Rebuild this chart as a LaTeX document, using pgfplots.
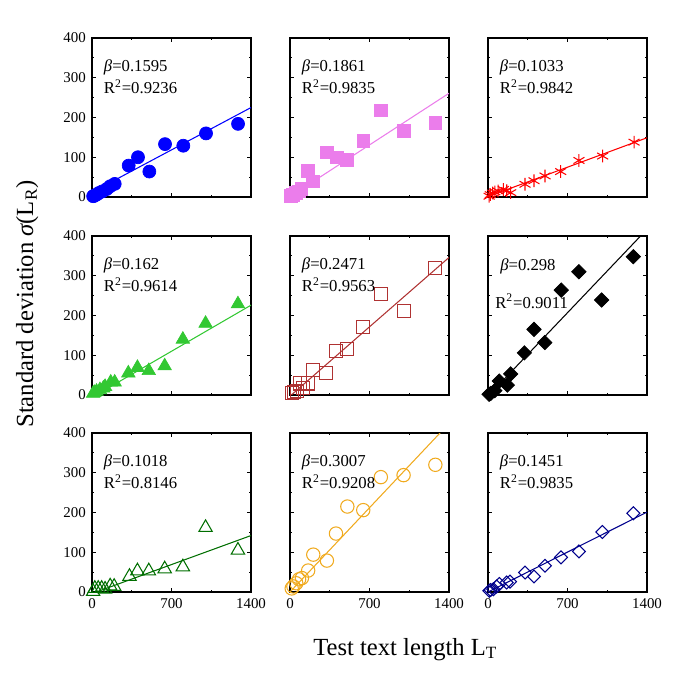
\documentclass[border=0pt]{standalone}
\usepackage{fontspec}
\setmainfont{Liberation Serif}
\usepackage{pgfplots}
\pgfplotsset{compat=1.18}
\definecolor{cBlue}{RGB}{0,0,255}
\definecolor{cViolet}{RGB}{235,125,235}
\definecolor{cRed}{RGB}{255,0,0}
\definecolor{cGreen}{RGB}{50,200,50}
\definecolor{cBrown}{RGB}{175,50,50}
\definecolor{cDkGreen}{RGB}{0,110,0}
\definecolor{cOrange}{RGB}{240,170,30}
\definecolor{cNavy}{RGB}{0,0,140}
\pgfplotsset{
 panel/.style={
  width=3.18cm, height=3.18cm, scale only axis,
  xmin=0,xmax=1400,ymin=0,ymax=400,
  xtick={0,700,1400}, ytick={0,100,200,300,400},
  minor x tick num=1, minor y tick num=1,
  major tick length=0.08cm, minor tick length=0.045cm,
  tick style={black, line width=0.5pt},
  axis line style={line width=0.6pt},
  tick label style={font=\fontsize{8.5}{10}\selectfont},
  /pgf/number format/assume math mode=true,
  xticklabels={}, yticklabels={},
  clip mode=individual,
  anchor=south west,
 },
 ylab/.style={yticklabels={0,100,200,300,400}},
 xlab/.style={xticklabels={0,700,1400}},
}
\newcommand{\annot}[2]{%
 \node[anchor=base west,font=\fontsize{9.5}{11}\selectfont,inner sep=0pt] at (rel axis cs:0.073,0.788) {{\itshape β}=#1};
 \node[anchor=base west,font=\fontsize{9.5}{11}\selectfont,inner sep=0pt] at (rel axis cs:0.073,0.648) {R\textsuperscript{2}=#2};}
\begin{document}
\begin{tikzpicture}
\path[use as bounding box] (0,0) rectangle (13.7cm,13.7cm);
% Row 1
\begin{axis}[panel,ylab,at={(1.84cm,9.76cm)}]
\addplot[cBlue,line width=0.6pt,no marks] coordinates {(0,12) (1400,225)};
\addplot[cBlue,only marks,mark=*,mark size=3.7pt] coordinates {(10,2) (20,3) (40,6) (60,10) (90,14) (130,20) (160,27) (200,33) (323,79) (405,100) (505,64) (643,133) (804,129) (1004,160) (1286,184)};
\annot{0.1595}{0.9236}
\end{axis}
\begin{axis}[panel,at={(5.80cm,9.76cm)}]
\addplot[cViolet,line width=0.6pt,no marks] coordinates {(0,1) (1400,261)};
\addplot[cViolet,only marks,mark=square*,mark size=3.6pt] coordinates {(10,3) (25,6) (50,10) (80,14) (100,20) (160,66) (200,39) (323,112) (410,100) (500,94) (645,141) (800,218) (1000,166) (1280,186)};
\annot{0.1861}{0.9835}
\end{axis}
\begin{axis}[panel,at={(9.76cm,9.76cm)}]
\addplot[cRed,line width=0.6pt,no marks] coordinates {(0,1) (1400,149)};
\addplot[cRed,only marks,mark=asterisk,mark size=3.6pt,line width=0.6pt] coordinates {(10,2) (20,6) (40,10) (60,13) (90,15) (135,19) (165,16) (200,11) (326,32) (405,41) (502,53) (640,64) (801,92) (1010,103) (1286,138)};
\annot{0.1033}{0.9842}
\end{axis}
% Row 2
\begin{axis}[panel,ylab,at={(1.84cm,5.80cm)}]
\addplot[cGreen,line width=0.6pt,no marks] coordinates {(0,-6) (1400,226)};
\addplot[cGreen,only marks,mark=triangle*,mark size=4.4pt] coordinates {(10,4) (20,6) (40,9) (70,13) (100,17) (115,21) (165,32) (200,32) (320,55) (400,69) (500,61) (640,73) (800,140) (1000,180) (1285,229)};
\annot{0.162}{0.9614}
\end{axis}
\begin{axis}[panel,at={(5.80cm,5.80cm)}]
\addplot[cBrown,line width=0.6pt,no marks] coordinates {(0,-3) (1400,346)};
\addplot[cBrown,only marks,mark=square,mark size=3.7pt,line width=0.6pt] coordinates {(15,4) (35,8) (60,11) (90,29) (115,17) (160,29) (200,63) (320,56) (405,111) (505,115) (645,172) (800,254) (1000,212) (1280,320)};
\annot{0.2471}{0.9563}
\end{axis}
\begin{axis}[panel,at={(9.76cm,5.80cm)}]
\addplot[black,line width=0.6pt,no marks] coordinates {(0,-3) (1400,417)};
\addplot[black,only marks,mark=square*,mark size=2.9pt,mark options={rotate=45}] coordinates {(10,2) (25,4) (60,11) (100,35) (170,25) (200,53) (320,106) (405,165) (500,132) (645,264) (800,310) (1000,239) (1280,348)};
\node[anchor=base west,font=\fontsize{9.5}{11}\selectfont,inner sep=0pt] at (rel axis cs:0.075,0.782) {{\itshape β}=0.298};
\node[anchor=base west,font=\fontsize{9.5}{11}\selectfont,inner sep=0pt] at (rel axis cs:0.044,0.545) {R\textsuperscript{2}=0.9011};
\end{axis}
% Row 3
\begin{axis}[panel,ylab,xlab,at={(1.84cm,1.86cm)}]
\addplot[cDkGreen,line width=0.6pt,no marks] coordinates {(0,-4) (1400,142)};
\addplot[cDkGreen,only marks,mark=triangle,mark size=4.4pt,line width=0.6pt] coordinates {(10,1) (25,9) (55,9) (85,9) (115,7) (160,15) (195,14) (330,39) (400,53) (500,53) (640,58) (800,63) (1000,162) (1285,105)};
\annot{0.1018}{0.8146}
\end{axis}
\begin{axis}[panel,xlab,at={(5.80cm,1.86cm)}]
\addplot[cOrange,line width=0.6pt,no marks] coordinates {(0,0) (1400,424)};
\addplot[cOrange,only marks,mark=o,mark size=3.8pt,line width=0.6pt] coordinates {(15,9) (30,14) (55,22) (80,32) (105,35) (160,54) (205,94) (325,79) (405,147) (505,215) (645,206) (800,289) (1000,294) (1280,320)};
\annot{0.3007}{0.9208}
\end{axis}
\begin{axis}[panel,xlab,at={(9.76cm,1.86cm)}]
\addplot[cNavy,line width=0.6pt,no marks] coordinates {(0,0) (1400,201)};
\addplot[cNavy,only marks,mark=square,mark size=2.6pt,line width=0.6pt,mark options={rotate=45}] coordinates {(12,3) (23,5) (47,7) (76,14) (100,20) (164,24) (194,26) (326,49) (405,39) (502,66) (643,87) (801,102) (1007,151) (1280,198)};
\annot{0.1451}{0.9835}
\end{axis}
% axis labels
\node[anchor=base west,font=\fontsize{14}{16}\selectfont,inner sep=0pt] at (6.26cm,0.60cm) {Test text length L\textsubscript{T}};
\node[anchor=base west,rotate=90,font=\fontsize{14}{16}\selectfont,inner sep=0pt] at (0.66cm,5.14cm) {Standard deviation {\itshape σ}(L\textsubscript{R})};
\end{tikzpicture}
\end{document}
